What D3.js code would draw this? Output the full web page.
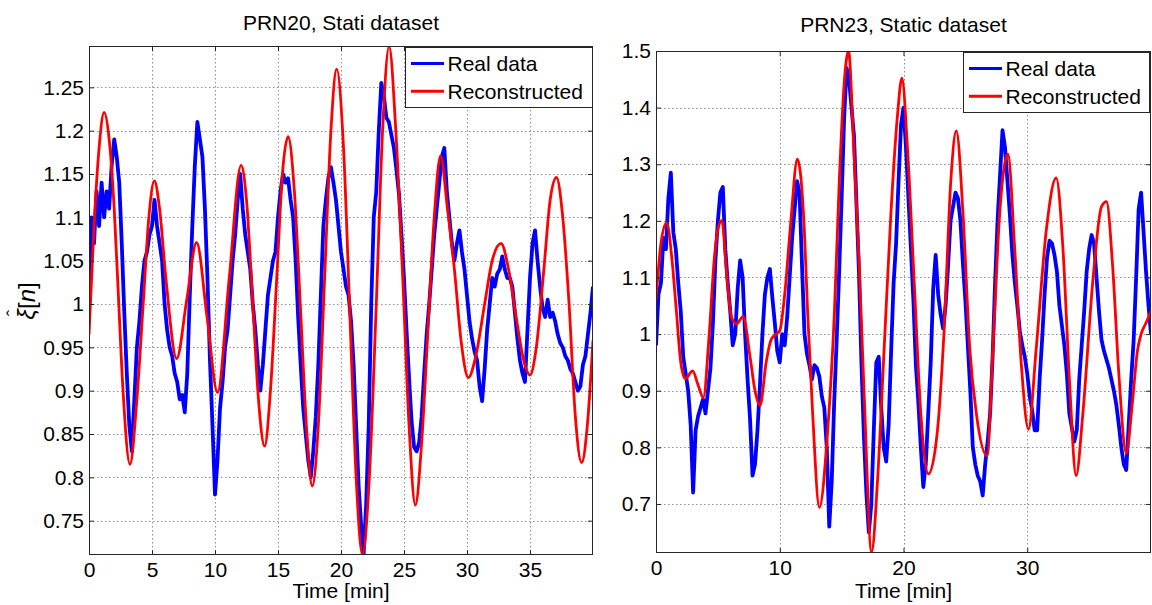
<!DOCTYPE html>
<html><head><meta charset="utf-8">
<script src="https://cdn.jsdelivr.net/npm/d3@7"></script>
<style>
body{margin:0;background:#fff}
svg{display:block}
text{font-family:"Liberation Sans",Arial,sans-serif;fill:#000}
</style>
</head><body><svg id="chart" width="1152" height="605"></svg>
<script>
// ---------------- data ----------------
const seriesNames = ["Real data", "Reconstructed"];
const seriesColors = ["#0000ff", "#ff0000"];
const sampleStep = 0.2;            // minutes between samples of the real data
const xLabel = "Time [min]";

const titleL = "PRN20, Stati dataset";
const xTicksL = [0, 5, 10, 15, 20, 25, 30, 35];
const xTickLabelsL = ["0", "5", "10", "15", "20", "25", "30", "35"];
const yTicksL = [0.75, 0.8, 0.85, 0.9, 0.95, 1, 1.05, 1.1, 1.15, 1.2, 1.25];
const yTickLabelsL = ["0.75", "0.8", "0.85", "0.9", "0.95", "1", "1.05", "1.1", "1.15", "1.2", "1.25"];
const yDomainL = [0.7104, 1.2977];

const realL = [
 1.02,1.10,1.07,1.13,1.09, 1.14,1.10,1.13,1.11,1.16, 1.19,1.17,1.14,1.07,0.99,
 0.92,0.86,0.83,0.89,0.95, 0.98,1.02,1.05,1.06,1.08, 1.09,1.12,1.09,1.07,1.05,
 1.00,0.97,0.95,0.94,0.92, 0.91,0.89,0.895,0.875,0.92, 1.01,1.09,1.16,1.21,1.19,
 1.17,1.11,1.03,0.935,0.86, 0.78,0.82,0.88,0.91,0.95, 0.97,1.01,1.05,1.08,1.12,
 1.15,1.11,1.08,1.06,1.04, 1.00,0.97,0.93,0.90,0.93, 0.97,1.01,1.03,1.05,1.06,
 1.10,1.13,1.15,1.14,1.145, 1.12,1.10,1.05,0.985,0.93, 0.88,0.85,0.82,0.80,0.83,
 0.87,0.93,1.01,1.09,1.12, 1.146,1.158,1.14,1.12,1.09, 1.06,1.04,1.02,1.01,0.98,
 0.93,0.86,0.79,0.745,0.712, 0.77,0.86,1.00,1.10,1.13, 1.20,1.255,1.24,1.215,1.21,
 1.195,1.18,1.155,1.127,1.08, 1.03,0.97,0.915,0.865,0.835, 0.83,0.84,0.87,0.92,0.965,
 1.00,1.04,1.08,1.11,1.14, 1.17,1.18,1.13,1.10,1.07, 1.05,1.07,1.085,1.06,1.04,
 1.01,0.98,0.96,0.945,0.935, 0.905,0.888,0.925,0.97,1.00, 1.03,1.02,1.035,1.04,1.055,
 1.04,1.03,1.03,1.02,0.99, 0.96,0.935,0.92,0.91,0.97, 1.03,1.07,1.085,1.05,1.02,
 0.995,0.985,1.005,0.985,0.99, 0.98,0.965,0.955,0.95,0.94, 0.935,0.925,0.92,0.91,0.90,
 0.905,0.93,0.94,0.965,0.99, 1.02
];

const reconTL = [0,0.4,0.8,1.2,1.6,2.0,2.3,2.7,3.25,3.8,4.3,4.75,5.19,5.6,6.1,6.96,7.75,8.54,9.37,10.2,11.13,12.07,12.5,13.0,13.45,13.94,14.4,14.9,15.35,15.8,16.3,16.8,17.25,17.72,18.2,18.7,19.2,19.65,20.2,20.7,21.2,21.7,22.25,22.8,23.3,23.82,24.35,24.9,25.4,25.9,26.4,26.9,27.4,27.9,28.45,29.0,29.55,30.1,30.7,31.4,32.0,32.7,33.3,33.9,34.5,35.0,35.5,36.1,36.6,37.1,37.6,38.1,38.6,39.1,39.55,40];
const reconVL = [0.965,1.09,1.18,1.221,1.19,1.11,1.02,0.9,0.815,0.89,1.0,1.1,1.142,1.11,1.03,0.937,1.004,1.071,0.985,0.898,1.03,1.16,1.12,1.0,0.89,0.836,0.9,1.03,1.15,1.193,1.13,0.99,0.86,0.79,0.86,1.03,1.2,1.271,1.18,0.99,0.8,0.711,0.8,1.0,1.2,1.297,1.2,1.03,0.86,0.768,0.84,0.97,1.1,1.171,1.11,1.04,0.955,0.915,0.94,1.0,1.05,1.07,1.04,0.985,0.935,0.918,0.95,1.04,1.12,1.146,1.1,1.0,0.87,0.817,0.86,0.958];

const titleR = "PRN23, Static dataset";
const xTicksR = [0, 10, 20, 30];
const xTickLabelsR = ["0", "10", "20", "30"];
const yTicksR = [0.7, 0.8, 0.9, 1, 1.1, 1.2, 1.3, 1.4, 1.5];
const yTickLabelsR = ["0.7", "0.8", "0.9", "1", "1.1", "1.2", "1.3", "1.4", "1.5"];
const yDomainR = [0.6134, 1.5];

const realR = [
 0.98,1.07,1.09,1.17,1.15, 1.24,1.285,1.18,1.15,1.09, 1.04,0.96,0.93,0.90,0.84,
 0.72,0.83,0.855,0.87,0.885, 0.86,0.90,0.94,1.02,1.13, 1.20,1.25,1.26,1.15,1.09,
 1.04,0.98,1.00,1.08,1.13, 1.10,1.00,0.92,0.85,0.75, 0.77,0.83,0.91,1.00,1.07,
 1.10,1.115,1.065,1.02,0.97, 0.95,1.00,0.98,1.03,1.10, 1.17,1.22,1.27,1.25,1.12,
 1.00,0.965,0.945,0.92,0.945, 0.94,0.925,0.89,0.87,0.80, 0.66,0.74,0.88,0.99,1.11,
 1.24,1.38,1.47,1.45,1.40, 1.35,1.23,1.11,0.95,0.82, 0.72,0.65,0.70,0.83,0.95,
 0.96,0.87,0.80,0.775,0.84, 0.97,1.09,1.16,1.27,1.37, 1.40,1.33,1.24,1.15,1.06,
 0.945,0.88,0.80,0.73,0.77, 0.86,0.95,1.08,1.14,1.07, 1.035,1.01,1.05,1.12,1.20,
 1.225,1.25,1.24,1.20,1.125, 1.06,0.98,0.90,0.80,0.77, 0.75,0.74,0.715,0.77,0.81,
 0.86,0.96,1.09,1.20,1.28, 1.36,1.33,1.27,1.21,1.14, 1.09,1.05,1.005,0.98,0.96,
 0.93,0.89,0.865,0.83,0.83, 0.92,0.99,1.07,1.135,1.165, 1.16,1.14,1.11,1.05,1.015,
 0.98,0.93,0.86,0.835,0.81, 0.83,0.92,0.98,1.04,1.11, 1.15,1.175,1.16,1.10,1.04,
 0.99,0.97,0.955,0.94,0.92, 0.90,0.875,0.84,0.80,0.77, 0.76,0.84,0.92,0.99,1.10,
 1.22,1.25,1.18,1.11,1.05, 1.00
];

const reconTR = [0,0.4,0.86,1.3,1.65,2.0,2.37,2.96,3.4,3.82,4.3,4.7,5.0,5.32,5.7,6.1,6.5,7.04,7.6,8.0,8.41,8.9,9.3,9.7,10.0,10.4,10.9,11.42,11.99,12.26,12.66,13.2,13.87,14.41,14.81,15.22,15.56,15.98,16.42,16.83,17.42,17.9,18.44,18.98,19.52,19.87,20.32,20.86,21.4,22.02,22.74,23.28,23.82,24.27,24.81,25.35,25.89,26.75,27.23,27.77,28.44,28.98,29.52,30.1,30.73,31.53,32.34,32.88,33.41,33.95,34.49,35.3,36.0,36.4,36.9,37.4,38.0,38.5,38.9,39.2,39.6,40];
const reconVR = [1.059,1.16,1.197,1.13,1.04,0.95,0.921,0.935,0.91,0.888,1.0,1.13,1.185,1.201,1.11,1.03,1.018,1.031,0.96,0.9,0.874,0.95,0.99,1.0,1.006,1.07,1.2,1.309,1.182,1.035,0.859,0.694,0.829,1.035,1.27,1.447,1.5,1.329,1.124,0.888,0.615,0.741,0.976,1.212,1.388,1.452,1.329,1.094,0.859,0.753,0.829,1.006,1.27,1.359,1.212,0.976,0.859,0.785,0.976,1.212,1.318,1.153,0.947,0.832,0.976,1.182,1.276,1.153,0.918,0.75,0.859,1.094,1.225,1.234,1.12,0.93,0.79,0.88,0.97,1.0,1.02,1.04];

// ---------------- drawing ----------------
const svg = d3.select("#chart");
const FS = 21;

function panel(cfg, id) {
  const x = d3.scaleLinear().domain([0, 40]).range([cfg.left, cfg.right]);
  const y = d3.scaleLinear().domain(cfg.yDomain).range([cfg.bottom, cfg.top]);
  const g = svg.append("g");

  g.append("clipPath").attr("id", "clip" + id).append("rect")
    .attr("x", cfg.left).attr("y", cfg.top)
    .attr("width", cfg.right - cfg.left).attr("height", cfg.bottom - cfg.top);

  // grid
  const grid = g.append("g").attr("stroke", "#8f8f8f").attr("stroke-width", 1).attr("stroke-dasharray", "1.5,2.5");
  grid.selectAll(".gx").data(cfg.xTicks.filter(d => d > 0)).join("line")
    .attr("x1", d => Math.round(x(d)) + 0.5).attr("x2", d => Math.round(x(d)) + 0.5)
    .attr("y1", cfg.top).attr("y2", cfg.bottom);
  grid.selectAll(".gy").data(cfg.yTicks).join("line")
    .attr("y1", d => Math.round(y(d)) + 0.5).attr("y2", d => Math.round(y(d)) + 0.5)
    .attr("x1", cfg.left).attr("x2", cfg.right);

  // data lines
  const plot = g.append("g").attr("clip-path", `url(#clip${id})`);
  const realPts = cfg.real.map((v, i) => [i * sampleStep, v]);
  plot.append("path").datum(realPts)
    .attr("fill", "none").attr("stroke", seriesColors[0]).attr("stroke-width", 3.8)
    .attr("stroke-linejoin", "round")
    .attr("d", d3.line().x(d => x(d[0])).y(d => y(d[1])));
  const recPts = cfg.recT.map((t, i) => [t, cfg.recV[i]]);
  plot.append("path").datum(recPts)
    .attr("fill", "none").attr("stroke", seriesColors[1]).attr("stroke-width", 2.8)
    .attr("d", d3.line().curve(d3.curveMonotoneX).x(d => x(d[0])).y(d => y(d[1])));

  // axes
  const axCol = "#262626";
  const bottom = g.append("g").attr("transform", `translate(0,${cfg.bottom})`)
    .call(d3.axisBottom(x).tickValues(cfg.xTicks).tickSize(-5).tickPadding(7)
      .tickFormat((d, i) => cfg.xLabels[i]));
  const top = g.append("g").attr("transform", `translate(0,${cfg.top})`)
    .call(d3.axisTop(x).tickValues(cfg.xTicks).tickSize(-5).tickFormat(""));
  const left = g.append("g").attr("transform", `translate(${cfg.left},0)`)
    .call(d3.axisLeft(y).tickValues(cfg.yTicks).tickSize(-5).tickPadding(5)
      .tickFormat((d, i) => cfg.yLabels[i]));
  const right = g.append("g").attr("transform", `translate(${cfg.right},0)`)
    .call(d3.axisRight(y).tickValues(cfg.yTicks).tickSize(-5).tickFormat(""));
  [bottom, top, left, right].forEach(a => {
    a.select(".domain").remove();
    a.selectAll(".tick line").attr("stroke", axCol);
    a.selectAll(".tick text").attr("font-size", FS).attr("font-family", '"Liberation Sans",Arial,sans-serif').attr("fill", "#000");
  });
  g.append("rect").attr("x", cfg.left + 0.5).attr("y", cfg.top + 0.5)
    .attr("width", cfg.right - cfg.left - 1).attr("height", cfg.bottom - cfg.top - 1)
    .attr("fill", "none").attr("stroke", axCol).attr("stroke-width", 1);

  // title + x label
  g.append("text").attr("x", (cfg.left + cfg.right) / 2).attr("y", cfg.titleY)
    .attr("text-anchor", "middle").attr("font-size", FS).text(cfg.title);
  g.append("text").attr("x", (cfg.left + cfg.right) / 2).attr("y", 598)
    .attr("text-anchor", "middle").attr("font-size", FS).text(xLabel);

  // legend
  const L = cfg.legend;
  const lg = g.append("g");
  lg.append("rect").attr("x", L.x + 0.5).attr("y", L.y + 0.5).attr("width", L.w).attr("height", L.h)
    .attr("fill", "#fff").attr("stroke", axCol).attr("stroke-width", 1);
  seriesNames.forEach((name, i) => {
    const cy = L.y + 16.5 + i * 27.7;
    lg.append("line").attr("x1", L.x + 6).attr("x2", L.x + 39).attr("y1", cy).attr("y2", cy)
      .attr("stroke", seriesColors[i]).attr("stroke-width", 3);
    lg.append("text").attr("x", L.x + 42.5).attr("y", cy).attr("dy", "0.36em")
      .attr("font-size", FS).text(name);
  });
  return {x, y};
}

panel({left: 89, right: 593, top: 46, bottom: 555, yDomain: yDomainL,
  xTicks: xTicksL, xLabels: xTickLabelsL, yTicks: yTicksL, yLabels: yTickLabelsL,
  real: realL, recT: reconTL, recV: reconVL, title: titleL, titleY: 30,
  legend: {x: 405, y: 47, w: 187, h: 60}}, "L");

panel({left: 656, right: 1151, top: 51, bottom: 553, yDomain: yDomainR,
  xTicks: xTicksR, xLabels: xTickLabelsR, yTicks: yTicksR, yLabels: yTickLabelsR,
  real: realR, recT: reconTR, recV: reconVR, title: titleR, titleY: 32,
  legend: {x: 963, y: 52, w: 186, h: 60}}, "R");

// y label (left panel only): xi-hat [n]
const yl = svg.append("g").attr("transform", "translate(35,301) rotate(-90)");
const ylt = yl.append("text").attr("text-anchor", "middle")
  .attr("font-family", '"Liberation Serif","DejaVu Serif",serif').attr("font-size", 24);
ylt.append("tspan").attr("font-style", "italic").text("ξ");
ylt.append("tspan").text("[");
ylt.append("tspan").attr("font-style", "italic").text("n");
ylt.append("tspan").text("]");
// hat over xi
const bb = ylt.node().getBBox();
yl.append("text").attr("x", bb.x + 3.5).attr("y", -15)
  .attr("font-family", '"Liberation Serif","DejaVu Serif",serif').attr("font-size", 19).text("ˆ");
</script>
</body></html>
